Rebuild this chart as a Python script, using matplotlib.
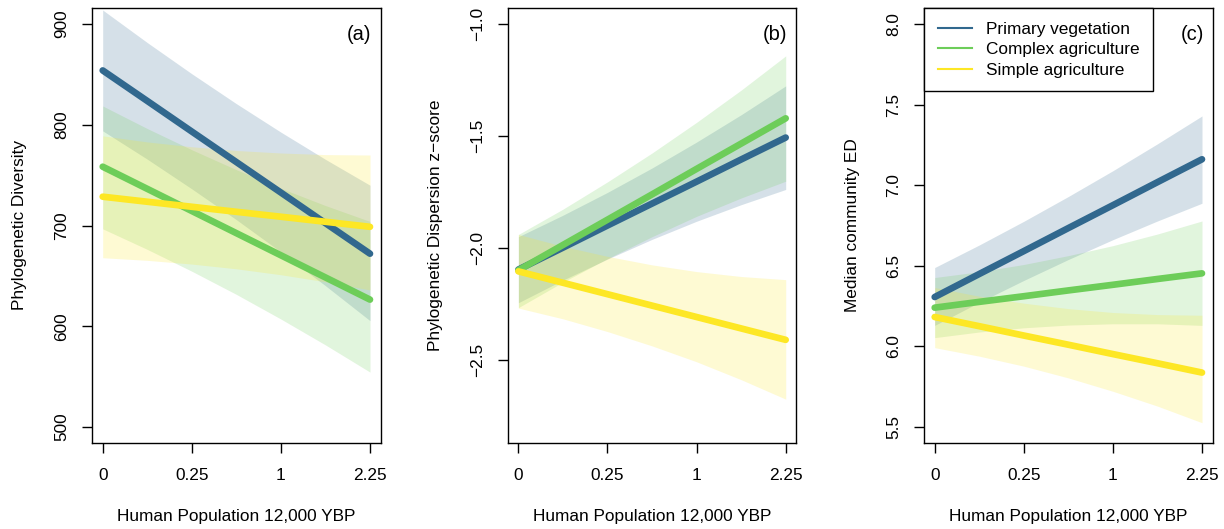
import numpy as np
import matplotlib
matplotlib.use("Agg")
import matplotlib.pyplot as plt
from matplotlib.lines import Line2D

plt.rcParams['font.family'] = ['Liberation Sans', 'DejaVu Sans']

# ---------------- data ----------------
x_vals = [0, 0.0625, 0.25, 0.5625, 1, 1.5625, 2.25]
x_ticks = [0, 0.25, 1, 2.25]
x_ticklabels = ['0', '0.25', '1', '2.25']
groups = ['Primary vegetation', 'Complex agriculture', 'Simple agriculture']
colors = ['#31688E', '#6DCD59', '#FDE725']

# (a) Phylogenetic Diversity
pd_fit_primary = [854, 823.7, 793.3, 763, 732.7, 702.3, 672]
pd_lo_primary = [794, 765.9, 736.4, 705.8, 673.7, 640.2, 605.5]
pd_hi_primary = [914, 881.7, 850.7, 821, 792.7, 765.7, 740]
pd_fit_complex = [758.4, 736.4, 714.4, 692.4, 670.4, 648.4, 626.4]
pd_lo_complex = [696.7, 676.3, 654.6, 631.6, 607.1, 581.4, 554.4]
pd_hi_complex = [818.7, 796.3, 775.2, 755.4, 736.9, 719.8, 704]
pd_fit_simple = [728.6, 723.6, 718.6, 713.6, 708.7, 703.7, 698.7]
pd_lo_simple = [668, 665.4, 661.7, 657, 651.1, 644.1, 636]
pd_hi_simple = [789, 783, 778.2, 774.5, 772, 770.4, 770]

# (b) Phylogenetic Dispersion z-score
ses_fit_primary = [-2.097, -1.999, -1.900, -1.802, -1.704, -1.605, -1.507]
ses_lo_primary = [-2.245, -2.144, -2.050, -1.962, -1.881, -1.807, -1.739]
ses_hi_primary = [-1.95, -1.854, -1.752, -1.643, -1.527, -1.405, -1.276]
ses_fit_complex = [-2.10, -1.987, -1.874, -1.761, -1.647, -1.534, -1.421]
ses_lo_complex = [-2.267, -2.153, -2.048, -1.950, -1.859, -1.777, -1.702]
ses_hi_complex = [-1.94, -1.827, -1.705, -1.576, -1.439, -1.295, -1.142]
ses_fit_simple = [-2.105, -2.156, -2.207, -2.258, -2.309, -2.360, -2.411]
ses_lo_simple = [-2.269, -2.317, -2.374, -2.438, -2.509, -2.589, -2.676]
ses_hi_simple = [-1.94, -1.993, -2.038, -2.076, -2.106, -2.128, -2.142]

# (c) Median community ED
ed_fit_primary = [6.306, 6.449, 6.591, 6.734, 6.876, 7.019, 7.161]
ed_lo_primary = [6.13, 6.273, 6.409, 6.539, 6.662, 6.778, 6.888]
ed_hi_primary = [6.489, 6.629, 6.776, 6.930, 7.090, 7.257, 7.43]
ed_fit_complex = [6.24, 6.276, 6.311, 6.347, 6.382, 6.418, 6.453]
ed_lo_complex = [6.054, 6.089, 6.115, 6.132, 6.140, 6.140, 6.13]
ed_hi_complex = [6.427, 6.463, 6.508, 6.563, 6.625, 6.697, 6.778]
ed_fit_simple = [6.182, 6.125, 6.067, 6.010, 5.952, 5.895, 5.837]
ed_lo_simple = [5.992, 5.939, 5.877, 5.804, 5.721, 5.629, 5.526]
ed_hi_simple = [6.365, 6.311, 6.268, 6.234, 6.210, 6.197, 6.193]

panels = [
    dict(tag='(a)', ylabel='Phylogenetic Diversity', ylim=(500, 900),
         yticks=[500, 600, 700, 800, 900], ylabels=['500', '600', '700', '800', '900'],
         fits=[pd_fit_primary, pd_fit_complex, pd_fit_simple],
         los=[pd_lo_primary, pd_lo_complex, pd_lo_simple],
         his=[pd_hi_primary, pd_hi_complex, pd_hi_simple]),
    dict(tag='(b)', ylabel='Phylogenetic Dispersion z\u2212score', ylim=(-2.8, -1.0),
         yticks=[-2.5, -2.0, -1.5, -1.0], ylabels=['\u22122.5', '\u22122.0', '\u22121.5', '\u22121.0'],
         fits=[ses_fit_primary, ses_fit_complex, ses_fit_simple],
         los=[ses_lo_primary, ses_lo_complex, ses_lo_simple],
         his=[ses_hi_primary, ses_hi_complex, ses_hi_simple]),
    dict(tag='(c)', ylabel='Median community ED', ylim=(5.5, 8.0),
         yticks=[5.5, 6.0, 6.5, 7.0, 7.5, 8.0], ylabels=['5.5', '6.0', '6.5', '7.0', '7.5', '8.0'],
         fits=[ed_fit_primary, ed_fit_complex, ed_fit_simple],
         los=[ed_lo_primary, ed_lo_complex, ed_lo_simple],
         his=[ed_hi_primary, ed_hi_complex, ed_hi_simple]),
]

# ---------------- figure ----------------
W, H = 1224, 529
fig = plt.figure(figsize=(W / 100, H / 100), dpi=100)
FS = 12.4

lefts = [92, 507.7, 924]
ax_w = 288.7
ax_top, ax_bot = 8, 443


def fwd(x):
    x = np.asarray(x, dtype=float)
    return np.sign(x) * np.sqrt(np.abs(x))


def inv(y):
    y = np.asarray(y, dtype=float)
    return np.sign(y) * y ** 2


for i, p in enumerate(panels):
    ax = fig.add_axes([lefts[i] / W, (H - ax_bot) / H, ax_w / W, (ax_bot - ax_top) / H])
    ax.set_xscale('function', functions=(fwd, inv))
    for fit, lo, hi, col in zip(p['fits'], p['los'], p['his'], colors):
        ax.fill_between(x_vals, lo, hi, color=col, alpha=0.2, linewidth=0)
        ax.plot(x_vals, fit, color=col, lw=4.8, solid_capstyle='round')
    # R-style 4% axis extension
    s0, s1 = 0.0, 1.5
    ax.set_xlim(inv(s0 - 0.04 * (s1 - s0)), inv(s1 + 0.04 * (s1 - s0)))
    y0, y1 = p['ylim']
    ax.set_ylim(y0 - 0.04 * (y1 - y0), y1 + 0.04 * (y1 - y0))
    ax.set_xticks(x_ticks)
    ax.set_xticklabels(x_ticklabels)
    ax.set_yticks(p['yticks'])
    ax.set_yticklabels(p['ylabels'])
    ax.minorticks_off()
    ax.tick_params(axis='both', direction='out', length=7.2, width=1.0,
                   labelsize=FS, colors='black')
    ax.tick_params(axis='x', pad=11)
    ax.tick_params(axis='y', pad=9)
    for lab in ax.get_yticklabels():
        lab.set_rotation(90)
        lab.set_verticalalignment('center')
    for sp in ax.spines.values():
        sp.set_linewidth(1.0)
        sp.set_color('black')
    ax.set_xlabel('Human Population 12,000 YBP', fontsize=FS)
    ax.set_ylabel(p['ylabel'], fontsize=FS)
    ax.xaxis.label.set_verticalalignment('center')
    ax.yaxis.label.set_verticalalignment('center')
    ax.xaxis.set_label_coords(0.5, -74 / (ax_bot - ax_top))
    ax.yaxis.set_label_coords(-72 / ax_w, 0.5)
    ax.text(1 - 9 / ax_w, 1 - 27 / (ax_bot - ax_top), p['tag'], transform=ax.transAxes,
            ha='right', va='center', fontsize=14.5)
    if i == 2:
        handles = [Line2D([0], [0], color=c, lw=1.5) for c in colors]
        leg = ax.legend(handles, groups, loc='upper left', bbox_to_anchor=(0, 1),
                        borderaxespad=0, fontsize=FS, frameon=True, fancybox=False,
                        edgecolor='black', framealpha=1, handlelength=2.0,
                        handletextpad=0.8, labelspacing=0.31, borderpad=0.8)
        leg.get_frame().set_linewidth(1.0)

fig.savefig('out.png', dpi=100)
